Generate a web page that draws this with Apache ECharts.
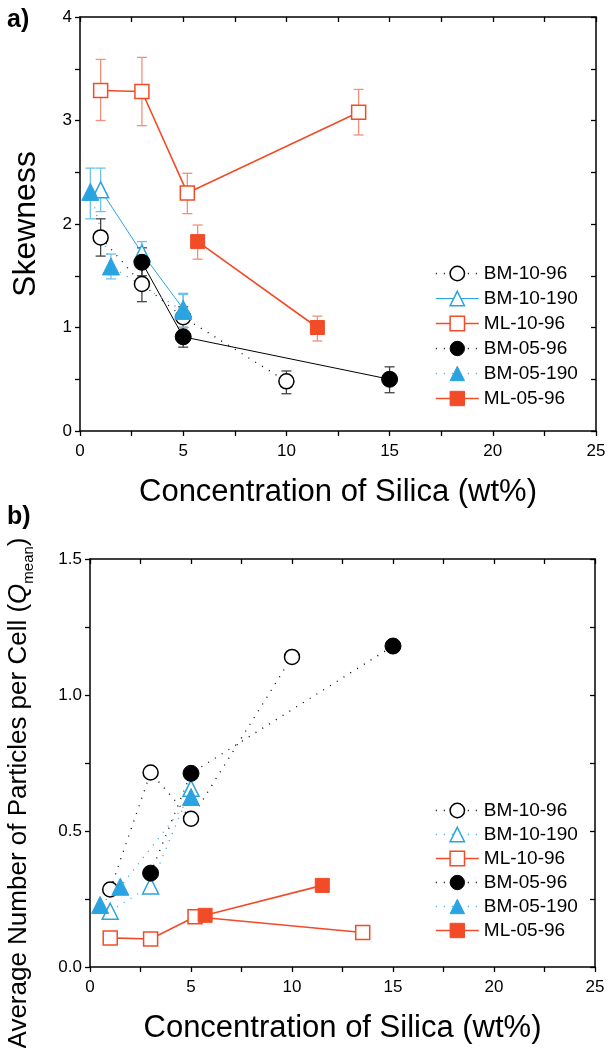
<!DOCTYPE html>
<html><head><meta charset="utf-8">
<script src="https://cdn.jsdelivr.net/npm/echarts@6/dist/echarts.min.js"></script>
<style>html,body{margin:0;padding:0;background:#fff}#c{width:608px;height:1048px}</style>
</head><body><div id="c"></div>
<script>
// ---------- DATA ----------
const seriesNames = ['BM-10-96','BM-10-190','ML-10-96','BM-05-96','BM-05-190','ML-05-96'];
const xTicks = [0,5,10,15,20,25];

// (a) Skewness: [x, y]
const skewBM1096  = [[1,1.87],[3,1.42],[5,1.10],[10,0.48]];
const skewBM10190 = [[1,2.33],[3,1.72],[5,1.18]];
const skewML1096  = [[1,3.29],[3,3.28],[5.2,2.30],[13.5,3.08]];
const skewBM0596  = [[3,1.63],[5,0.91],[15,0.50]];
const skewBM05190 = [[0.5,2.31],[1.5,1.59],[5,1.16]];
const skewML0596  = [[5.7,1.83],[11.5,1.00]];

// (a) error bars: [x, low, high]
const errBM1096  = [[1,1.69,2.05],[3,1.25,1.59],[5,1.00,1.20],[10,0.36,0.58]];
const errBM10190 = [[1,2.12,2.54],[3,1.62,1.83],[5,1.06,1.32]];
const errML1096  = [[1,3.00,3.59],[3,2.95,3.61],[5.2,2.10,2.49],[13.5,2.86,3.30]];
const errBM0596  = [[3,1.50,1.77],[5,0.81,1.00],[15,0.37,0.62]];
const errBM05190 = [[0.5,2.05,2.54],[1.5,1.47,1.71],[5,1.00,1.33]];
const errML0596  = [[5.7,1.66,1.99],[11.5,0.87,1.11]];

// (b) Q mean: [x, y]
const qBM1096  = [[1,0.285],[3,0.715],[5,0.545],[10,1.14]];
const qBM10190 = [[1,0.205],[3,0.298],[5,0.657]];
const qML1096  = [[1,0.107],[3,0.103],[5.2,0.185],[13.5,0.127]];
const qBM0596  = [[3,0.345],[5,0.712],[15,1.18]];
const qBM05190 = [[0.5,0.228],[1.5,0.295],[5,0.625]];
const qML0596  = [[5.7,0.19],[11.5,0.30]];

// ---------- STYLE ----------
const RED = '#f24b28', BLUE = '#2aa4e0', BLACK = '#000';
const ERR_RED = '#f2907c', ERR_BLUE = '#6cc2ec', ERR_BLACK = '#444';
const FONT = 'Liberation Sans, Arial, sans-serif';
const DOT = [1, 7];

const chart = echarts.init(document.getElementById('c'), null, {renderer:'canvas'});

function xAx(grid, pos, showLabel, name, nameGap){
  return {
    type:'value', gridIndex:grid, position:pos, min:0, max:25, interval:2.5,
    axisLine:{show:true, onZero:false, lineStyle:{color:'#000', width:1.5}},
    axisTick:{show:true, inside:pos==='top', length:5, lineStyle:{color:'#000', width:1.3}},
    axisLabel:{show:showLabel, color:'#000', fontFamily:FONT, fontSize:17, margin:12,
      formatter:v => (xTicks.indexOf(v) >= 0 ? String(v) : '')},
    splitLine:{show:false},
    name: name || '', nameLocation:'middle', nameGap: nameGap || 0,
    nameTextStyle:{color:'#000', fontFamily:FONT, fontSize:31}
  };
}
function yAx(grid, pos, max, interval, labelStep, digits, name, nameGap, nameStyle){
  return {
    type:'value', gridIndex:grid, position:pos, min:0, max:max, interval:interval,
    axisLine:{show:true, onZero:false, lineStyle:{color:'#000', width:1.5}},
    axisTick:{show:true, inside:pos==='right', length:5, lineStyle:{color:'#000', width:1.3}},
    axisLabel:{show:pos==='left', color:'#000', fontFamily:FONT, fontSize:17, margin:8,
      formatter:v => (Math.abs(v/labelStep - Math.round(v/labelStep)) < 1e-6 ? v.toFixed(digits) : '')},
    splitLine:{show:false},
    name: name || '', nameLocation:'middle', nameGap: nameGap || 0,
    nameTextStyle: nameStyle || {}
  };
}

function lineSeries(name, data, xi, yi, symbol, size, filled, color, lineType, lineWidth){
  return {
    type:'line', name:name, data:data, xAxisIndex:xi, yAxisIndex:yi,
    symbol:symbol, symbolSize:size, showSymbol:true, z:5,
    itemStyle: filled ? {color:color, borderColor:color, borderWidth:1} : {color:'#fff', borderColor:color, borderWidth:1.5},
    lineStyle:{color:color, width:lineWidth, type:lineType},
    emphasis:{disabled:true}, animation:false
  };
}

function errSeries(data, color){
  return {
    type:'custom', xAxisIndex:0, yAxisIndex:0, data:data, z:3, silent:true, animation:false,
    renderItem:(params, api) => {
      const x = api.value(0), lo = api.value(1), hi = api.value(2);
      const pLo = api.coord([x, lo]), pHi = api.coord([x, hi]);
      const hw = 5, st = {stroke:color, lineWidth:1.3};
      return {type:'group', children:[
        {type:'line', shape:{x1:pLo[0], y1:pLo[1], x2:pHi[0], y2:pHi[1]}, style:st},
        {type:'line', shape:{x1:pLo[0]-hw, y1:pLo[1], x2:pLo[0]+hw, y2:pLo[1]}, style:st},
        {type:'line', shape:{x1:pHi[0]-hw, y1:pHi[1], x2:pHi[0]+hw, y2:pHi[1]}, style:st}
      ]};
    }
  };
}

function legendData(types){
  const cols = [BLACK, BLUE, RED, BLACK, BLUE, RED];
  const filled = [false,false,false,true,true,true];
  return seriesNames.map((n,i) => ({
    name:n,
    itemStyle: filled[i] ? {color:cols[i], borderColor:cols[i], borderWidth:1} : {color:'#fff', borderColor:cols[i], borderWidth:1.5},
    lineStyle:{color:cols[i], type:types[i], width:(types[i]==='solid' ? (i===1 ? 1 : 1.6) : 1.3)}
  }));
}
function legendAt(top, gap, types){
  return {
    left:430, top:top, orient:'vertical', itemWidth:43, itemHeight:18, itemGap:gap,
    textStyle:{color:'#000', fontFamily:FONT, fontSize:19},
    data: legendData(types), selectedMode:false
  };
}

const option = {
  backgroundColor:'#fff',
  animation:false,
  grid:[
    {left:80, right:12, top:17, bottom:617, outerBoundsMode:'none', containLabel:false},
    {left:90, right:13, top:559, bottom:81, outerBoundsMode:'none', containLabel:false}
  ],
  graphic:[
    {type:'text', left:7, top:8, style:{text:'a)', fontFamily:FONT, fontWeight:'bold', fontSize:25, fill:'#000'}},
    {type:'text', left:7, top:505, style:{text:'b)', fontFamily:FONT, fontWeight:'bold', fontSize:25, fill:'#000'}}
  ],
  legend:[
    legendAt(259, 6, [DOT,'solid','solid',DOT,DOT,'solid']),
    legendAt(796, 5, [DOT,DOT,'solid',DOT,DOT,'solid'])
  ],
  xAxis:[
    xAx(0,'bottom',true,'Concentration of Silica (wt%)',46),
    xAx(0,'top',false),
    xAx(1,'bottom',true,'Concentration of Silica (wt%)',46),
    xAx(1,'top',false)
  ],
  yAxis:[
    yAx(0,'left',4,0.5,1,0,'Skewness',38,{color:'#000', fontFamily:FONT, fontSize:32}),
    yAx(0,'right',4,0.5,1,0),
    yAx(1,'left',1.5,0.25,0.5,1,'{t|Average Number of Particles per Cell (}{q|Q}{s|mean}{t|)}',54,{
      color:'#000', fontFamily:FONT, fontSize:26, padding:[0,60,0,0],
      rich:{
        t:{fontFamily:FONT, fontSize:26, color:'#000'},
        q:{fontFamily:FONT, fontSize:26, color:'#000', fontStyle:'italic'},
        s:{fontFamily:FONT, fontSize:15, color:'#000', verticalAlign:'bottom', lineHeight:35}
      }}),
    yAx(1,'right',1.5,0.25,0.5,1)
  ],
  series:[
    errSeries(errBM1096, ERR_BLACK),
    errSeries(errBM10190, ERR_BLUE),
    errSeries(errML1096, ERR_RED),
    errSeries(errBM0596, ERR_BLACK),
    errSeries(errBM05190, ERR_BLUE),
    errSeries(errML0596, ERR_RED),

    lineSeries('BM-10-96', skewBM1096, 0,0,'circle',15,false,BLACK,DOT,1.3),
    lineSeries('BM-10-190', skewBM10190, 0,0,'triangle',16,false,BLUE,'solid',1),
    lineSeries('ML-10-96', skewML1096, 0,0,'rect',14,false,RED,'solid',1.6),
    lineSeries('BM-05-96', skewBM0596, 0,0,'circle',16,true,BLACK,'solid',1),
    lineSeries('BM-05-190', skewBM05190, 0,0,'triangle',17,true,BLUE,DOT,1.3),
    lineSeries('ML-05-96', skewML0596, 0,0,'rect',14,true,RED,'solid',1.6),

    lineSeries('BM-10-96', qBM1096, 2,2,'circle',15,false,BLACK,DOT,1.3),
    lineSeries('BM-10-190', qBM10190, 2,2,'triangle',16,false,BLUE,DOT,1.3),
    lineSeries('ML-10-96', qML1096, 2,2,'rect',14,false,RED,'solid',1.6),
    lineSeries('BM-05-96', qBM0596, 2,2,'circle',16,true,BLACK,DOT,1.3),
    lineSeries('BM-05-190', qBM05190, 2,2,'triangle',17,true,BLUE,DOT,1.3),
    lineSeries('ML-05-96', qML0596, 2,2,'rect',14,true,RED,'solid',1.6)
  ]
};
chart.setOption(option);
</script></body></html>
